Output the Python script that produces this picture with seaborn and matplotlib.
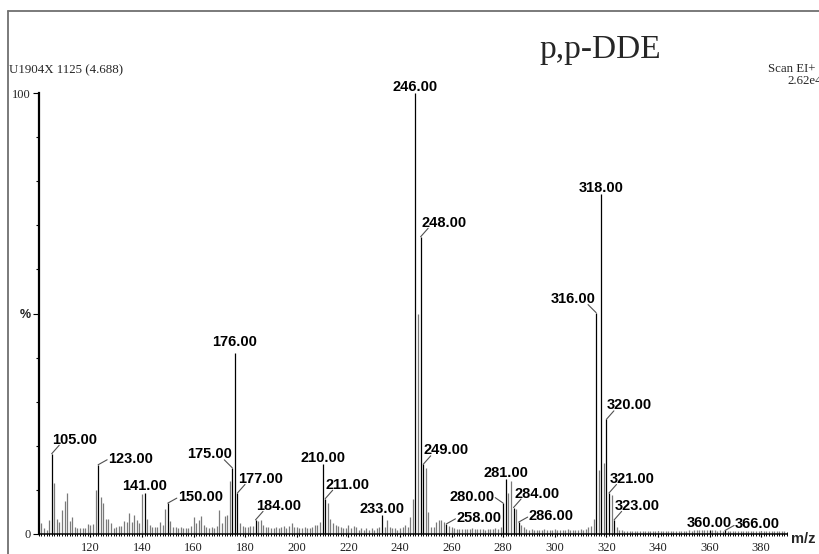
import matplotlib
matplotlib.use("Agg")
import matplotlib.pyplot as plt
import seaborn as sns
from matplotlib.lines import Line2D
from matplotlib.ticker import MultipleLocator, FixedLocator

# intensities (% of base peak) for every integer m/z
int_101_150 = [2.4, 1.3, 1.0, 3.2, 18.2, 11.5, 3.3, 2.8, 5.4, 7.5,
               9.2, 3.0, 3.8, 1.5, 1.3, 1.3, 1.3, 1.3, 2.3, 2.0,
               2.3, 10.0, 15.7, 8.3, 7.0, 3.5, 3.5, 2.4, 1.3, 1.5,
               1.8, 1.8, 3.0, 2.8, 4.8, 2.8, 4.3, 3.2, 2.4, 9.0,
               9.3, 3.5, 2.0, 1.5, 1.5, 1.5, 2.8, 2.0, 5.7, 7.0]
int_151_200 = [3.0, 1.5, 1.5, 1.3, 1.5, 1.3, 1.3, 1.3, 1.8, 3.8,
               2.6, 3.2, 4.0, 2.0, 1.5, 1.3, 1.5, 1.3, 1.8, 5.4,
               2.5, 4.0, 4.3, 12.0, 15.0, 41.0, 9.3, 2.4, 1.8, 1.5,
               1.5, 1.8, 1.8, 3.2, 3.0, 3.2, 2.0, 1.5, 1.5, 1.3,
               1.3, 1.5, 1.3, 1.5, 1.8, 1.3, 1.8, 2.4, 1.5, 1.5]
int_201_250 = [1.3, 1.3, 1.5, 1.3, 1.3, 1.5, 2.0, 2.0, 2.8, 15.8,
               8.0, 7.0, 3.3, 2.4, 2.0, 1.8, 1.7, 1.3, 1.3, 2.0,
               1.3, 1.8, 1.7, 1.0, 1.3, 1.0, 1.3, 1.0, 1.3, 1.0,
               1.3, 1.7, 4.3, 1.7, 3.2, 1.5, 1.4, 1.3, 1.0, 1.3,
               1.5, 2.0, 1.7, 3.9, 7.9, 100.0, 50.0, 67.4, 15.8, 15.0]
int_251_300 = [5.0, 1.7, 1.7, 2.8, 3.2, 3.2, 2.8, 2.3, 1.8, 1.5,
               1.3, 1.2, 1.2, 1.1, 1.2, 1.2, 1.1, 1.3, 1.2, 1.1,
               1.2, 1.1, 1.0, 1.1, 1.2, 1.1, 1.3, 1.2, 1.7, 7.0,
               12.4, 9.3, 12.0, 6.0, 5.6, 2.7, 2.0, 1.5, 1.2, 1.0,
               1.1, 0.9, 1.0, 1.0, 0.9, 1.1, 1.0, 0.9, 1.0, 1.1]
int_301_350 = [0.9, 1.0, 0.9, 1.0, 1.1, 0.9, 1.0, 1.0, 0.9, 1.1,
               1.0, 1.2, 1.5, 1.8, 3.3, 50.2, 14.5, 77.0, 16.0, 26.0,
               9.3, 8.8, 3.2, 1.5, 0.9, 0.8, 0.7, 0.7, 0.6, 0.7,
               0.6, 0.7, 0.6, 0.7, 0.6, 0.7, 0.6, 0.7, 0.7, 0.6,
               0.7, 0.6, 0.7, 0.7, 0.6, 0.7, 0.7, 0.6, 0.7, 0.7]
int_351_389 = [0.7, 0.8, 0.7, 0.8, 0.9, 0.8, 0.9, 0.8, 0.9, 1.0,
               0.8, 0.9, 0.7, 0.8, 0.7, 0.8, 0.7, 0.6, 0.7, 0.6,
               0.7, 0.6, 0.7, 0.6, 0.6, 0.7, 0.6, 0.6, 0.7, 0.6,
               0.6, 0.7, 0.6, 0.6, 0.7, 0.6, 0.6, 0.6, 0.6]

intensity = int_101_150 + int_151_200 + int_201_250 + int_251_300 + int_301_350 + int_351_389
mz = list(range(101, 101 + len(intensity)))

labeled_mz = [105, 123, 141, 150, 175, 176, 177, 184, 210, 211, 233, 246, 248,
              249, 258, 280, 281, 284, 286, 316, 318, 320, 321, 323, 360, 366]
x_ticks = [120, 140, 160, 180, 200, 220, 240, 260, 280, 300, 320, 340, 360, 380]
y_ticks = [0, 50, 100]
y_tick_labels = ["0", "%", "100"]

# where each peak label sits relative to its peak
label_mode = {105: "ur", 123: "r", 141: "c", 150: "r", 175: "ul", 176: "c", 177: "ur",
              184: "ur", 210: "c", 211: "ur", 233: "c", 246: "c", 248: "ur", 249: "ur",
              258: "r", 280: "l", 281: "c", 284: "ur", 286: "r", 316: "ul", 318: "c",
              320: "ur", 321: "ur", 323: "ur", 360: "c", 366: "r"}

sns.set_theme(style="white")
plt.rcParams["font.family"] = ["Liberation Serif", "DejaVu Serif"]

W, H = 820, 554
fig = plt.figure(figsize=(W / 100, H / 100), dpi=100)
x0, x1, y0, y1 = 38.8, 787.0, 534.0, 93.0
ax = fig.add_axes([x0 / W, 1 - y0 / H, (x1 - x0) / W, (y0 - y1) / H])
ax.set_xlim(100, 390)
ax.set_ylim(0, 100)
ax.patch.set_alpha(0)

lab = set(labeled_mz)
grey_x = [m for m in mz if m not in lab]
grey_y = [v for m, v in zip(mz, intensity) if m not in lab]
blk_x = [m for m in mz if m in lab]
blk_y = [v for m, v in zip(mz, intensity) if m in lab]
ax.vlines(grey_x, 0, grey_y, color="#7a7a7a", lw=0.9)
ax.vlines(blk_x, 0, blk_y, color="black", lw=0.9)

peak = dict(zip(mz, intensity))
lfont = dict(family="Liberation Sans", weight="bold", size=10.5, color="black")
for m in labeled_mz:
    h = peak[m]
    mode = label_mode[m]
    if mode == "c":
        gap = 7 if m == 176 else 2.5
        ax.annotate(f"{m:.2f}", (m, h), xytext=(0, gap), textcoords="offset pixels",
                    ha="center", va="baseline", annotation_clip=False, **lfont)
        continue
    if mode == "ur":
        txt, lead, ha = (0.5, 10), (7.5, 8.5), "left"
    elif mode == "r":
        txt, lead, ha = (10, 2), (9, 5), "left"
    elif mode == "ul":
        txt, lead, ha = (-0.5, 10), (-8, 8), "right"
    else:
        txt, lead, ha = (-9, 2), (-8, 5.5), "right"
    ax.annotate("", (m, h), xytext=lead, textcoords="offset pixels", annotation_clip=False,
                arrowprops=dict(arrowstyle="-", color="#505050", lw=0.8, shrinkA=0, shrinkB=0))
    ax.annotate(f"{m:.2f}", (m, h), xytext=txt, textcoords="offset pixels",
                ha=ha, va="baseline", annotation_clip=False, **lfont)

# axes styling
for s in ["top", "right"]:
    ax.spines[s].set_visible(False)
ax.spines["left"].set_color("black")
ax.spines["left"].set_linewidth(1.6)
ax.spines["bottom"].set_color("black")
ax.spines["bottom"].set_linewidth(1.1)

ax.xaxis.set_major_locator(FixedLocator(x_ticks))
ax.xaxis.set_minor_locator(MultipleLocator(1))
ax.set_xticklabels([str(t) for t in x_ticks])
ax.yaxis.set_major_locator(FixedLocator(y_ticks))
ax.yaxis.set_minor_locator(MultipleLocator(10))
ylabs = ax.set_yticklabels(y_tick_labels)
ylabs[1].set_fontfamily("Liberation Sans")
ylabs[1].set_fontweight("bold")
ylabs[1].set_fontsize(10.5)

ax.tick_params(axis="x", which="major", bottom=True, direction="inout", length=5,
               width=0.8, color="black", pad=3, labelsize=9, labelcolor="#222222")
ax.tick_params(axis="x", which="minor", bottom=True, direction="inout", length=3,
               width=0.7, color="black")
ax.tick_params(axis="y", which="major", left=True, direction="out", length=4.3,
               width=0.8, color="black", pad=1.5, labelsize=9, labelcolor="#222222")
ax.tick_params(axis="y", which="minor", left=True, direction="out", length=2.2,
               width=0.8, color="black")

# header texts
fig.text(9 / W, 1 - 70 / H, "U1904X 1125 (4.688)", fontsize=9.3, ha="left", va="center")
fig.text(539 / W, 1 - 58 / H, "p,p-DDE", fontsize=24, ha="left", va="baseline")
fig.text(768 / W, 1 - 69 / H, "Scan EI+", fontsize=9.3, ha="left", va="center")
fig.text(787 / W, 1 - 81 / H, "2.62e4", fontsize=9.3, ha="left", va="center")
fig.text(791 / W, 1 - 539 / H, "m/z", family="Liberation Sans", weight="bold",
         fontsize=10.5, ha="left", va="center")

# outer frame (top and left edges only show)
fig.add_artist(Line2D([8 / W, 1], [1 - 11 / H, 1 - 11 / H], color="#707070", lw=1.3,
                      transform=fig.transFigure))
fig.add_artist(Line2D([8 / W, 8 / W], [0, 1 - 11 / H], color="#707070", lw=1.3,
                      transform=fig.transFigure))

fig.savefig("out.png", dpi=100)
